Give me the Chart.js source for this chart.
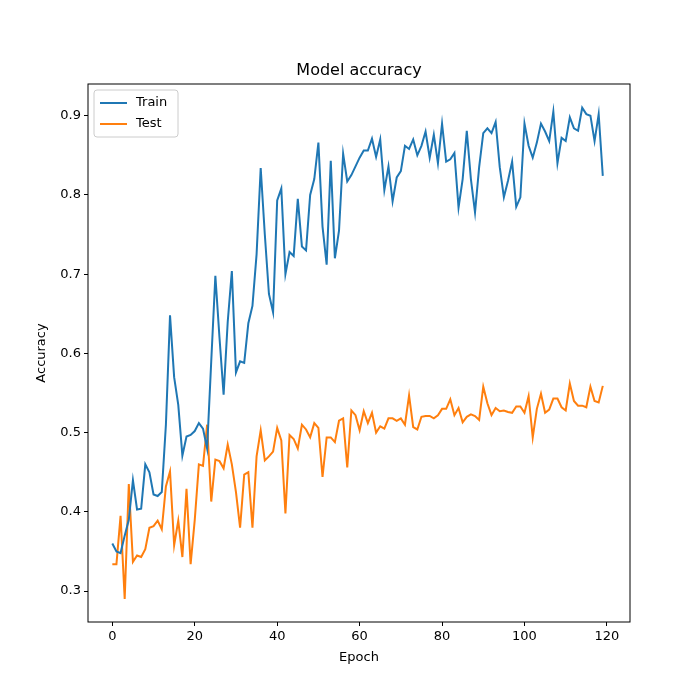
<!DOCTYPE html>
<html>
<head>
<meta charset="utf-8">
<script src="https://cdn.jsdelivr.net/npm/chart.js@4"></script>
<style>
  html, body { margin: 0; padding: 0; background: #fff; }
  #wrap { width: 700px; height: 700px; }
</style>
</head>
<body>
<div id="wrap"><canvas id="accChart"></canvas></div>
<script>
// values
const trainAcc = [0.36,0.35,0.348,0.37,0.39,0.44,0.403,0.404,0.46,0.45,0.422,0.42,0.425,0.51,0.648,0.57,0.535,0.471,0.495,0.497,
  0.502,0.512,0.505,0.48,0.59,0.698,0.62,0.548,0.64,0.704,0.576,0.59,0.588,0.638,0.66,0.725,0.834,0.75,0.675,0.652,
  0.793,0.808,0.70,0.728,0.723,0.795,0.735,0.73,0.80,0.82,0.866,0.76,0.712,0.843,0.72,0.755,0.852,0.817,0.825,0.836,
  0.847,0.856,0.856,0.871,0.848,0.87,0.806,0.836,0.792,0.822,0.83,0.862,0.858,0.87,0.85,0.862,0.88,0.847,0.876,0.84,
  0.89,0.842,0.845,0.853,0.784,0.82,0.881,0.82,0.778,0.835,0.878,0.884,0.878,0.892,0.835,0.797,0.818,0.842,0.785,0.797,
  0.89,0.862,0.847,0.866,0.89,0.88,0.868,0.905,0.84,0.872,0.868,0.898,0.884,0.881,0.91,0.902,0.9,0.868,0.902,0.824];
const testAcc = [0.334,0.334,0.395,0.29,0.435,0.337,0.345,0.343,0.353,0.38,0.382,0.389,0.378,0.432,0.451,0.358,0.389,0.343,0.429,0.334,
  0.39,0.46,0.458,0.51,0.413,0.466,0.464,0.455,0.485,0.46,0.425,0.38,0.447,0.45,0.38,0.47,0.503,0.465,0.47,0.476,
  0.506,0.49,0.398,0.497,0.492,0.48,0.51,0.504,0.494,0.512,0.506,0.444,0.494,0.494,0.488,0.515,0.518,0.456,0.528,0.522,
  0.503,0.527,0.512,0.525,0.5,0.508,0.505,0.518,0.518,0.515,0.518,0.51,0.547,0.507,0.504,0.52,0.521,0.521,0.518,0.522,
  0.53,0.53,0.542,0.522,0.531,0.513,0.52,0.523,0.521,0.516,0.558,0.537,0.522,0.531,0.527,0.528,0.526,0.525,0.533,0.533,
  0.525,0.546,0.494,0.53,0.549,0.525,0.529,0.543,0.543,0.532,0.528,0.562,0.54,0.534,0.534,0.532,0.558,0.54,0.538,0.559];
const seriesNames = ['Train', 'Test'];
const seriesColors = ['#1f77b4', '#ff7f0e'];
const epochs = trainAcc.map((_, i) => i);

const toPoints = arr => arr.map((v, i) => ({ x: epochs[i], y: v }));
const font = { family: 'DejaVu Sans', size: 13 };

// frame, title, axis labels and legend box like matplotlib
const decor = {
  id: 'decor',
  afterDraw(chart) {
    const { ctx, chartArea: a } = chart;
    ctx.save();
    ctx.strokeStyle = '#000';
    ctx.lineWidth = 1;
    ctx.strokeRect(a.left, a.top, a.right - a.left, a.bottom - a.top);
    ctx.fillStyle = '#000';
    ctx.font = '16px "DejaVu Sans"';
    ctx.textAlign = 'center';
    ctx.textBaseline = 'bottom';
    ctx.fillText('Model accuracy', (a.left + a.right) / 2, a.top - 5);
    ctx.font = '13px "DejaVu Sans"';
    ctx.textBaseline = 'middle';
    ctx.fillText('Epoch', (a.left + a.right) / 2, 658);
    ctx.save();
    ctx.translate(42, (a.top + a.bottom) / 2);
    ctx.rotate(-Math.PI / 2);
    ctx.fillText('Accuracy', 0, 0);
    ctx.restore();
    // legend
    const lx = a.left + 6, ly = a.top + 6;
    ctx.fillStyle = 'rgba(255,255,255,0.8)';
    ctx.strokeStyle = '#ccc';
    ctx.beginPath();
    ctx.roundRect(lx, ly, 84, 47, 3);
    ctx.fill(); ctx.stroke();
    ctx.textAlign = 'left';
    seriesNames.forEach((name, i) => {
      const yy = ly + 13 + i * 21;
      ctx.strokeStyle = seriesColors[i];
      ctx.lineWidth = 2;
      ctx.beginPath(); ctx.moveTo(lx + 6, yy); ctx.lineTo(lx + 33, yy); ctx.stroke();
      ctx.fillStyle = '#000';
      ctx.fillText(name, lx + 42, yy);
    });
    ctx.restore();
  }
};

new Chart(document.getElementById('accChart'), {
  type: 'line',
  data: {
    datasets: [
      { label: seriesNames[0], data: toPoints(trainAcc), borderColor: seriesColors[0], borderWidth: 2, pointRadius: 0, tension: 0 },
      { label: seriesNames[1], data: toPoints(testAcc), borderColor: seriesColors[1], borderWidth: 2, pointRadius: 0, tension: 0 }
    ]
  },
  options: {
    responsive: true,
    maintainAspectRatio: false,
    animation: false,
    layout: { padding: { top: 84, right: 70, left: 0, bottom: 0 } },
    plugins: { legend: { display: false }, tooltip: { enabled: false } },
    scales: {
      x: {
        type: 'linear', min: -5.9, max: 125.6,
        afterFit(s) { s.height = 78; },
        afterBuildTicks(s) { s.ticks = [0, 20, 40, 60, 80, 100, 120].map(v => ({ value: v })); },
        grid: { drawOnChartArea: false, tickLength: 4, color: '#000' },
        border: { display: false },
        ticks: { font, color: '#000', padding: 3 }
      },
      y: {
        min: 0.261, max: 0.94,
        afterFit(s) { s.width = 88; },
        afterBuildTicks(s) { s.ticks = [0.3, 0.4, 0.5, 0.6, 0.7, 0.8, 0.9].map(v => ({ value: v })); },
        grid: { drawOnChartArea: false, tickLength: 4, color: '#000' },
        border: { display: false },
        ticks: { font, color: '#000', padding: 3, callback: v => v.toFixed(1) }
      }
    }
  },
  plugins: [decor]
});
</script>
</body>
</html>
